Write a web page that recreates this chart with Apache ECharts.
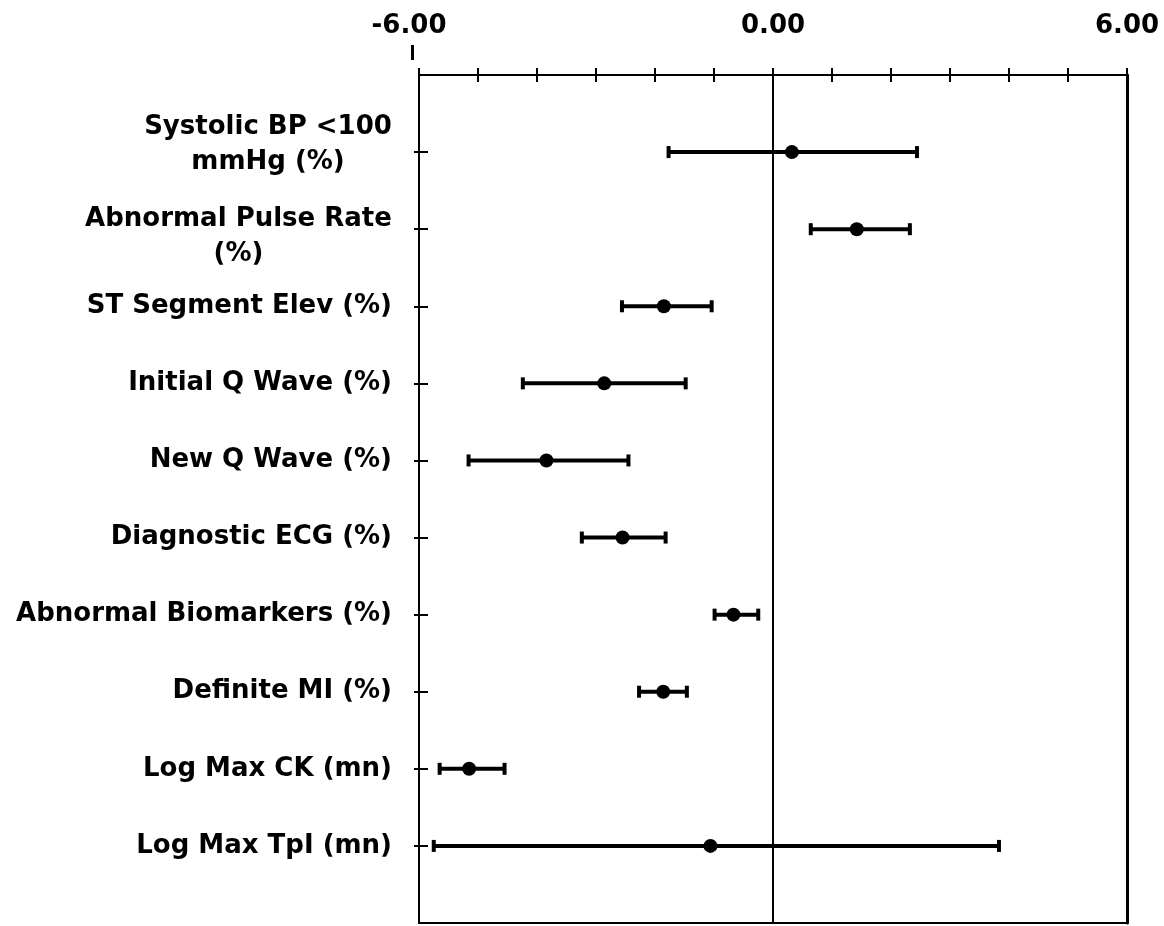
<!DOCTYPE html>
<html>
<head>
<meta charset="utf-8">
<script src="https://cdn.jsdelivr.net/npm/echarts@6/dist/echarts.min.js"></script>
<style>
  html, body { margin: 0; padding: 0; background: #fff; }
  #chart { width: 1164px; height: 926px; }
</style>
</head>
<body>
<div id="chart"></div>
<script>
// Outcome measures, listed top to bottom
const categories = [
  'Systolic BP <100\nmmHg (%)',
  'Abnormal Pulse Rate\n(%)',
  'ST Segment Elev (%)',
  'Initial Q Wave (%)',
  'New Q Wave (%)',
  'Diagnostic ECG (%)',
  'Abnormal Biomarkers (%)',
  'Definite MI (%)',
  'Log Max CK (mn)',
  'Log Max TpI (mn)'
];
// Point estimates and interval bounds
const estimates = [0.32, 1.42, -1.85, -2.86, -3.84, -2.55, -0.67, -1.86, -5.15, -1.06];
const lower     = [-1.77, 0.64, -2.56, -4.24, -5.16, -3.24, -0.99, -2.27, -5.65, -5.75];
const upper     = [2.44, 2.32, -1.04, -1.48, -2.45, -1.82, -0.25, -1.46, -4.55, 3.83];
// Axis range and labelled ticks
const xMin = -6, xMax = 6, xStep = 1;
const xTickLabels = [-6, 0, 6];

const FONT = '"DejaVu Sans", sans-serif';
const FONT_SIZE = 26;
const positions = categories.map((_, i) => i + 1);
// Vertical nudge (px) of the two-line label blocks: negative raises, positive lowers
const blockNudge = { 0: -7.5, 1: 7.5 };

// Multi-line labels are centred within their own block
const measureCtx = document.createElement('canvas').getContext('2d');
measureCtx.font = 'bold ' + FONT_SIZE + 'px "DejaVu Sans"';
const baseText = { fontSize: FONT_SIZE, fontWeight: 'bold', fontFamily: FONT, color: '#000' };
const rich = { s: Object.assign({}, baseText) };
categories.forEach((name, i) => {
  const lines = name.split('\n');
  if (lines.length > 1) {
    const w = Math.ceil(Math.max(...lines.map(l => measureCtx.measureText(l).width)));
    const d = blockNudge[i] || 0;
    rich['a' + i] = Object.assign({ width: w, align: 'center', padding: [Math.max(0, 2 * d), 0, 9, 0] }, baseText);
    rich['b' + i] = Object.assign({ width: w, align: 'center', padding: [0, 0, Math.max(0, -2 * d), 0] }, baseText);
  }
});
function categoryLabel(v) {
  const i = Math.round(v) - 1;
  const name = categories[i];
  if (name === undefined) return '';
  const lines = name.split('\n');
  if (lines.length === 1) return '{s|' + name + '}';
  return '{a' + i + '|' + lines[0] + '}\n{b' + i + '|' + lines[1] + '}';
}

const chart = echarts.init(document.getElementById('chart'), null, { renderer: 'canvas' });

const axisLineStyle = { color: '#000', width: 2 };
const tickStyle = { color: '#000', width: 2 };

chart.setOption({
  animation: false,
  backgroundColor: '#fff',
  grid: {
    left: 419, right: 37, top: 75, bottom: 3,
    show: true, borderColor: '#000', borderWidth: 2,
    outerBoundsMode: 'none'
  },
  xAxis: [
    {
      type: 'value', position: 'top', min: xMin, max: xMax, interval: xStep,
      axisLine: { show: true, onZero: false, lineStyle: axisLineStyle },
      axisTick: { show: true, inside: true, length: 7, lineStyle: tickStyle },
      axisLabel: {
        customValues: xTickLabels,
        formatter: v => (v < 0 ? '{n|' : '{p|') + v.toFixed(2) + '}',
        margin: 36,
        rich: {
          n: Object.assign({ padding: [0, 20, 0, 0] }, baseText),
          p: Object.assign({}, baseText)
        }
      },
      splitLine: { show: false }
    },
    {
      type: 'value', position: 'top', min: xMin, max: xMax, interval: xStep,
      axisLine: { show: false, onZero: false },
      axisTick: { show: true, inside: false, length: 7, lineStyle: tickStyle },
      axisLabel: { show: false },
      splitLine: { show: false }
    }
  ],
  yAxis: [
    {
      type: 'value', min: 0, max: categories.length + 1, inverse: true, position: 'left',
      axisLine: { show: true, onZero: false, lineStyle: axisLineStyle },
      axisTick: { show: true, customValues: positions, inside: true, length: 9, lineStyle: tickStyle },
      axisLabel: { customValues: positions, formatter: categoryLabel, margin: 27, rich: rich },
      splitLine: { show: false }
    },
    {
      type: 'value', min: 0, max: categories.length + 1, inverse: true, position: 'left',
      axisLine: { show: false, onZero: false },
      axisTick: { show: true, customValues: positions, inside: false, length: 5, lineStyle: tickStyle },
      axisLabel: { show: false },
      splitLine: { show: false }
    },
    {
      type: 'value', min: 0, max: categories.length + 1, inverse: true, position: 'right',
      axisLine: { show: true, onZero: false, lineStyle: { color: '#000', width: 3 } },
      axisTick: { show: false },
      axisLabel: { show: false },
      splitLine: { show: false }
    }
  ],
  graphic: [
    { type: 'rect', shape: { x: 411, y: 45, width: 3, height: 15 }, style: { fill: '#000' } }
  ],
  series: [
    {
      type: 'custom',
      xAxisIndex: 0, yAxisIndex: 0,
      data: categories.map((_, i) => [lower[i], upper[i], i + 1]),
      encode: { x: [0, 1], y: 2 },
      renderItem: function (params, api) {
        const y = api.value(2);
        const lo = api.coord([api.value(0), y]);
        const hi = api.coord([api.value(1), y]);
        const cap = 6;
        const st = { stroke: '#000', lineWidth: 4 };
        return {
          type: 'group',
          children: [
            { type: 'line', shape: { x1: lo[0], y1: lo[1], x2: hi[0], y2: hi[1] }, style: st },
            { type: 'line', shape: { x1: lo[0], y1: lo[1] - cap, x2: lo[0], y2: lo[1] + cap }, style: st },
            { type: 'line', shape: { x1: hi[0], y1: hi[1] - cap, x2: hi[0], y2: hi[1] + cap }, style: st }
          ]
        };
      },
      z: 3
    },
    {
      type: 'scatter',
      xAxisIndex: 0, yAxisIndex: 0,
      data: estimates.map((v, i) => [v, i + 1]),
      symbol: 'circle', symbolSize: 14,
      itemStyle: { color: '#000', opacity: 1 },
      markLine: {
        silent: true,
        symbol: ['none', 'none'],
        label: { show: false },
        lineStyle: { color: '#000', width: 2, type: 'solid', opacity: 1 },
        data: [{ xAxis: 0 }]
      },
      z: 4
    }
  ]
});
</script>
</body>
</html>
